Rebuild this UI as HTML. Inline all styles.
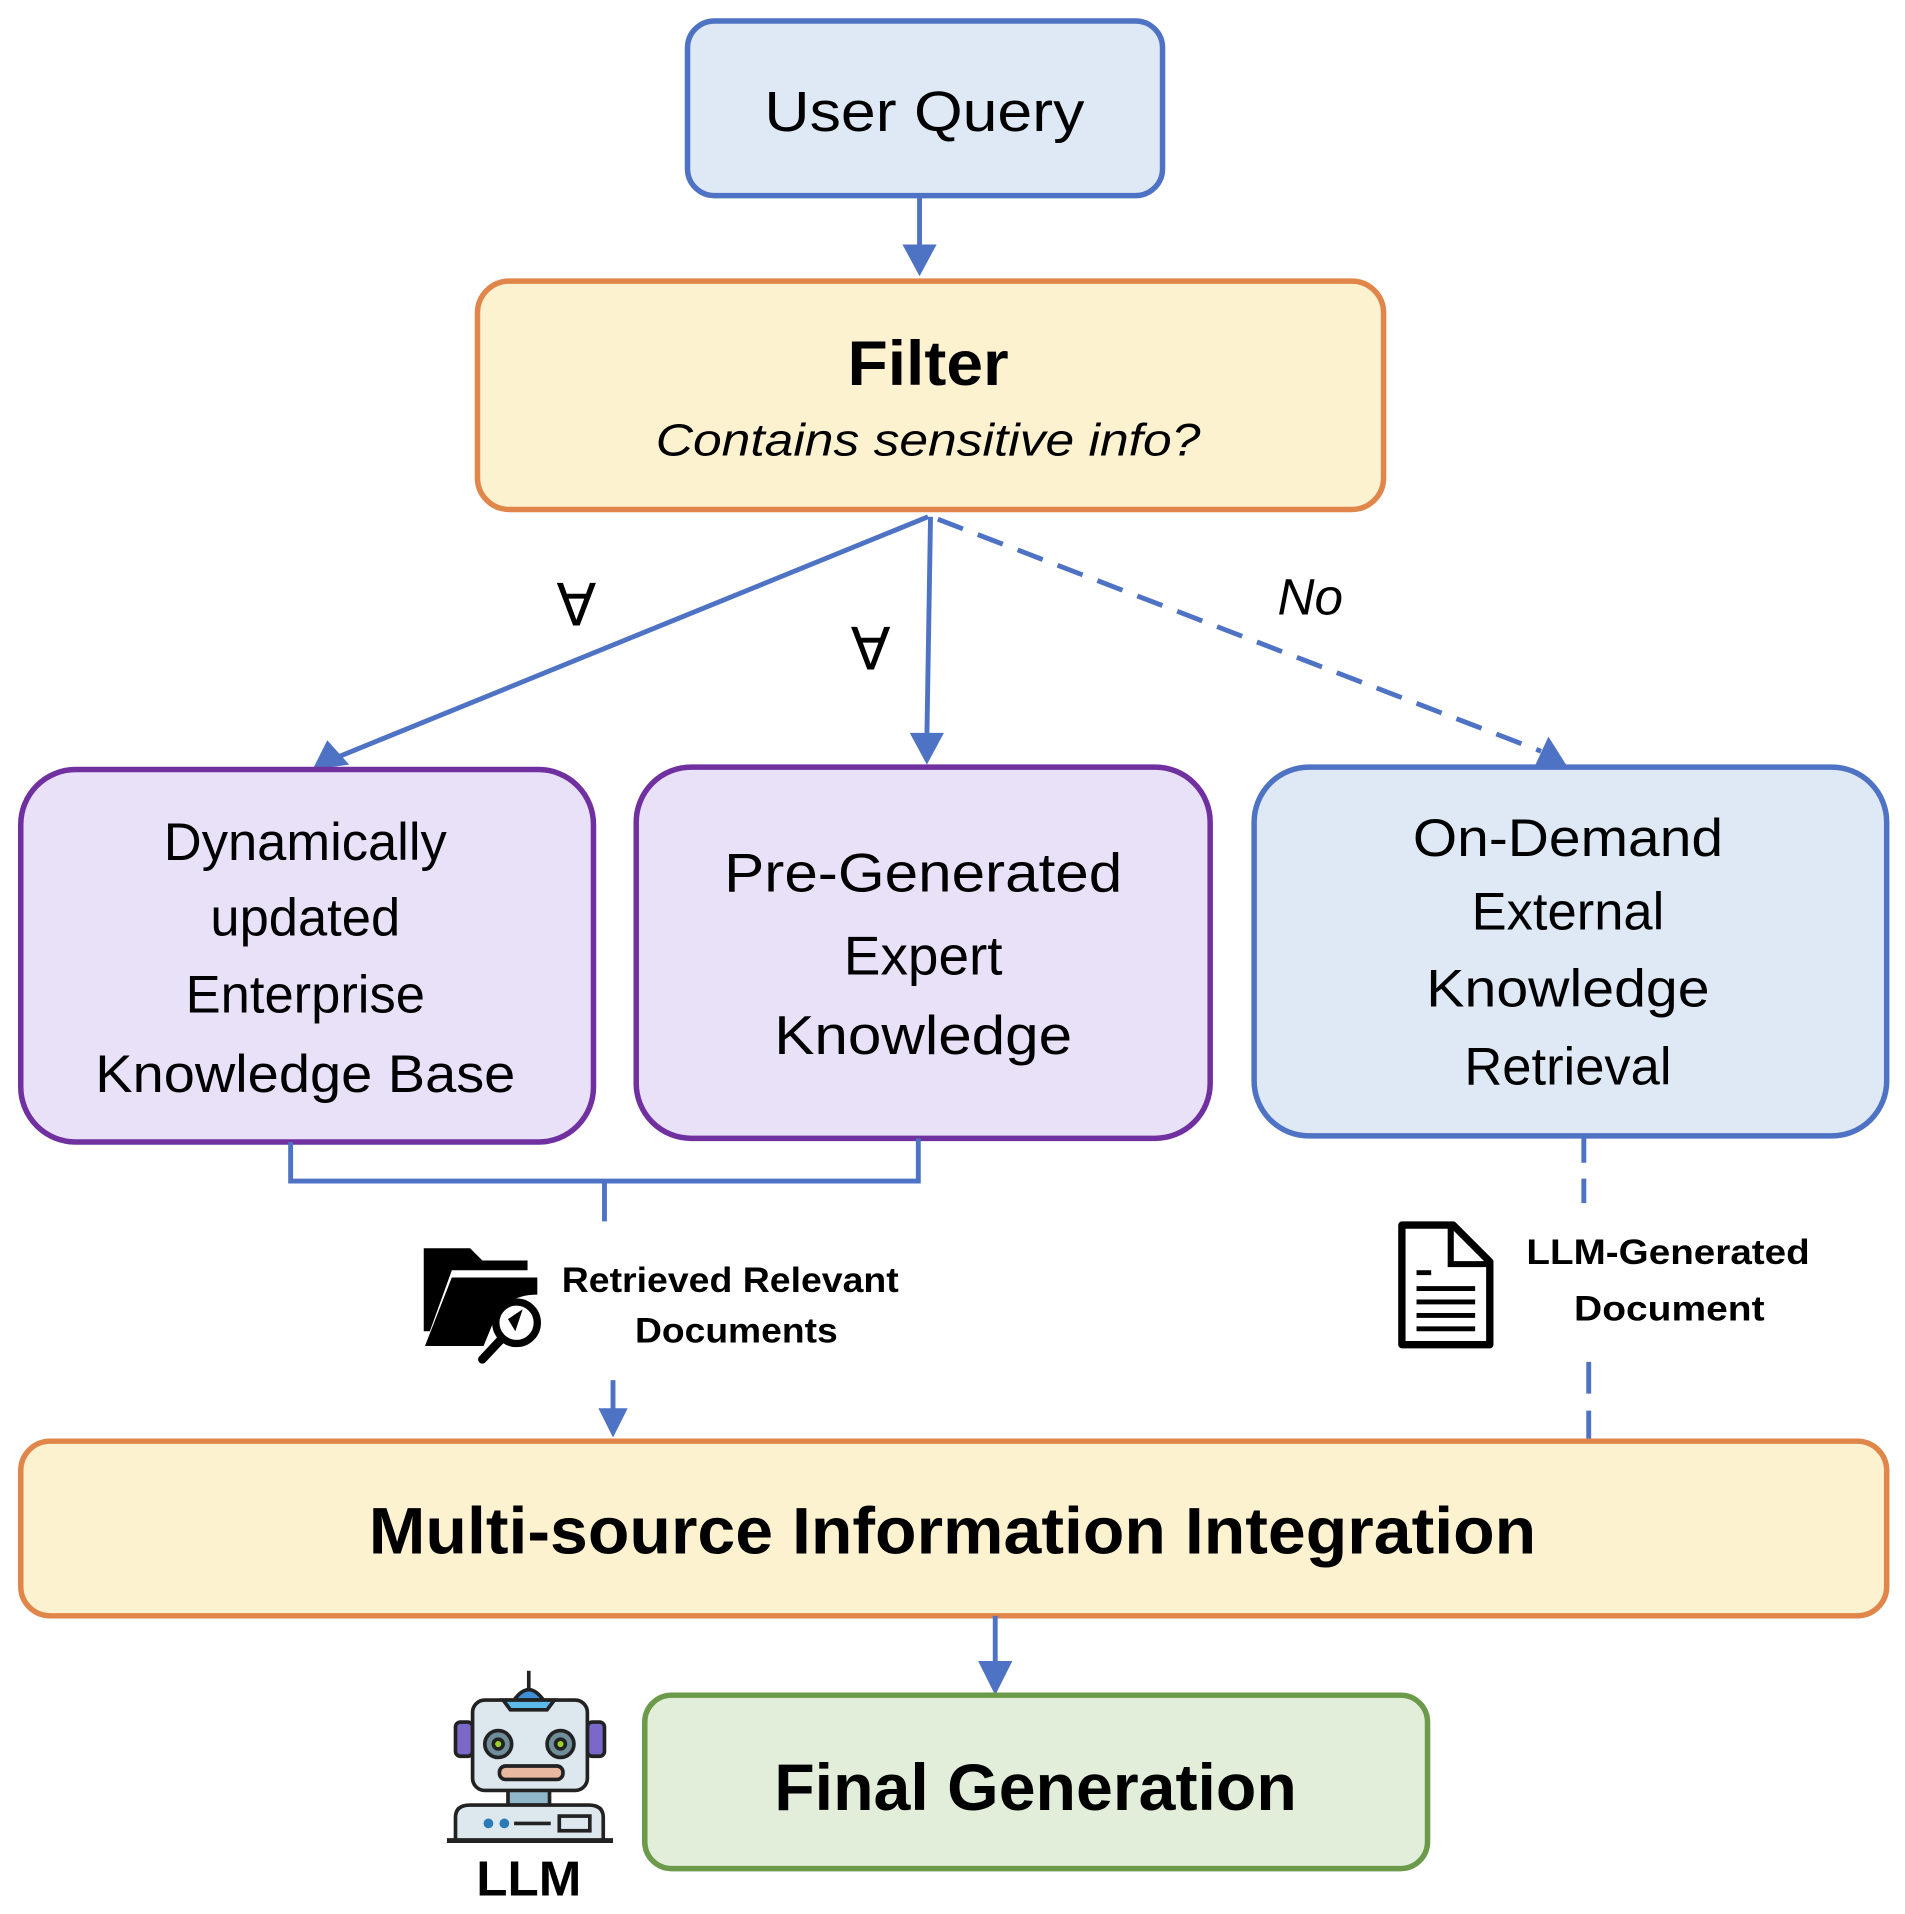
<!DOCTYPE html>
<html><head><meta charset="utf-8"><style>
html,body{margin:0;padding:0;background:#fff;}
svg{display:block;}
text{font-family:"Liberation Sans",sans-serif;fill:#000;}
</style></head><body>
<svg width="1905" height="1914" viewBox="0 0 1560 1567" xmlns="http://www.w3.org/2000/svg">
<defs>
<marker id="ah" markerWidth="8" markerHeight="8" refX="6" refY="4" orient="auto" markerUnits="userSpaceOnUse" viewBox="0 0 8 8">
</marker>
</defs>
<!-- User Query -->
<rect x="563" y="17" width="389" height="143" rx="22" fill="#dfe9f5" stroke="#4f73c4" stroke-width="4.5"/>
<text x="757" y="107" font-size="46" text-anchor="middle" textLength="262" lengthAdjust="spacingAndGlyphs">User Query</text>
<line x1="753" y1="160" x2="753" y2="205" stroke="#4f73c4" stroke-width="4"/>
<polygon points="739,200 767,200 753,226" fill="#4f73c4"/>
<!-- Filter -->
<rect x="391" y="230" width="742" height="187" rx="26" fill="#fdf2d0" stroke="#e0864a" stroke-width="4.5"/>
<text x="760" y="315" font-size="52" font-weight="bold" text-anchor="middle" textLength="132" lengthAdjust="spacingAndGlyphs">Filter</text>
<text x="760" y="373" font-size="37" font-style="italic" text-anchor="middle" textLength="446" lengthAdjust="spacingAndGlyphs">Contains sensitive info?</text>
<!-- branches -->
<line x1="760" y1="423" x2="276" y2="620" stroke="#4f73c4" stroke-width="4"/>
<polygon points="256,630 268,606 286,626" fill="#4f73c4"/>
<line x1="762" y1="423" x2="759" y2="605" stroke="#4f73c4" stroke-width="4"/>
<polygon points="745,600 773,600 759,626" fill="#4f73c4"/>
<line x1="768" y1="425" x2="1262" y2="615" stroke="#4f73c4" stroke-width="4" stroke-dasharray="22,13"/>
<polygon points="1285,630 1256,629 1268,603" fill="#4f73c4"/>
<text x="472" y="512" font-size="48" text-anchor="middle">∀</text>
<text x="713" y="548" font-size="48" text-anchor="middle">∀</text>
<text x="1073" y="503" font-size="42" font-style="italic" text-anchor="middle">No</text>
<!-- middle boxes -->
<rect x="17" y="630" width="469" height="305" rx="45" fill="#e9e1f7" stroke="#7030a0" stroke-width="4.5"/>
<g font-size="43" text-anchor="middle">
<text x="250" y="704">Dynamically</text>
<text x="250" y="766">updated</text>
<text x="250" y="829">Enterprise</text>
<text x="250" y="894" textLength="344" lengthAdjust="spacingAndGlyphs">Knowledge Base</text>
</g>
<rect x="521" y="628" width="470" height="304" rx="45" fill="#e9e1f7" stroke="#7030a0" stroke-width="4.5"/>
<g font-size="45" text-anchor="middle">
<text x="756" y="730" textLength="326" lengthAdjust="spacingAndGlyphs">Pre-Generated</text>
<text x="756" y="798">Expert</text>
<text x="756" y="863" textLength="244" lengthAdjust="spacingAndGlyphs">Knowledge</text>
</g>
<rect x="1027" y="628" width="518" height="302" rx="45" fill="#dfe9f5" stroke="#4f73c4" stroke-width="4.5"/>
<g font-size="43" text-anchor="middle">
<text x="1284" y="701" textLength="254" lengthAdjust="spacingAndGlyphs">On-Demand</text>
<text x="1284" y="761">External</text>
<text x="1284" y="824" textLength="232" lengthAdjust="spacingAndGlyphs">Knowledge</text>
<text x="1284" y="888">Retrieval</text>
</g>
<!-- bracket -->
<path d="M238,935 V967 H752 V932 M495,967 V1000" fill="none" stroke="#4f73c4" stroke-width="4"/>
<!-- folder icon -->
<g>
<path d="M347,1022 H385 L395,1032 H432 V1040 H370 L352,1090 H347 Z" fill="#000"/>
<path d="M370,1046 H440 V1060 Q415,1060 405,1080 L396,1102 H348 Z" fill="#000"/>
<circle cx="423" cy="1083" r="17" fill="#fff" stroke="#000" stroke-width="6"/>
<path d="M416,1080 L428,1072 L422,1090 Z" fill="#000"/>
<line x1="410" y1="1097" x2="395" y2="1113" stroke="#000" stroke-width="7" stroke-linecap="round"/>
</g>
<g font-size="29" font-weight="bold" text-anchor="middle">
<text x="598" y="1058" textLength="276" lengthAdjust="spacingAndGlyphs">Retrieved Relevant</text>
<text x="603" y="1099" textLength="166" lengthAdjust="spacingAndGlyphs">Documents</text>
</g>
<line x1="502" y1="1130" x2="502" y2="1158" stroke="#4f73c4" stroke-width="4"/>
<polygon points="490,1153 514,1153 502,1177" fill="#4f73c4"/>
<!-- right dashed -->
<line x1="1297" y1="932" x2="1297" y2="997" stroke="#4f73c4" stroke-width="4" stroke-dasharray="20,13"/>
<line x1="1301" y1="1115" x2="1301" y2="1180" stroke="#4f73c4" stroke-width="4" stroke-dasharray="26,14"/>
<!-- doc icon -->
<path d="M1148,1003 H1190 L1220,1033 V1101 H1148 Z" fill="#fff" stroke="#000" stroke-width="6" stroke-linejoin="round"/>
<path d="M1188,1003 V1035 H1220" fill="none" stroke="#000" stroke-width="5"/>
<g stroke="#000" stroke-width="4">
<line x1="1160" y1="1042" x2="1172" y2="1042"/>
<line x1="1160" y1="1055" x2="1208" y2="1055"/>
<line x1="1160" y1="1066" x2="1208" y2="1066"/>
<line x1="1160" y1="1077" x2="1208" y2="1077"/>
<line x1="1160" y1="1088" x2="1208" y2="1088"/>
</g>
<g font-size="29" font-weight="bold" text-anchor="middle">
<text x="1366" y="1035" textLength="232" lengthAdjust="spacingAndGlyphs">LLM-Generated</text>
<text x="1367" y="1081" textLength="156" lengthAdjust="spacingAndGlyphs">Document</text>
</g>
<!-- multi source -->
<rect x="17" y="1180" width="1528" height="143" rx="24" fill="#fdf2d0" stroke="#e0864a" stroke-width="4.5"/>
<text x="780" y="1272" font-size="54" font-weight="bold" text-anchor="middle" textLength="956" lengthAdjust="spacingAndGlyphs">Multi-source Information Integration</text>
<line x1="815" y1="1323" x2="815" y2="1365" stroke="#4f73c4" stroke-width="4"/>
<polygon points="801,1360 829,1360 815,1388" fill="#4f73c4"/>
<!-- final -->
<rect x="528" y="1388" width="641" height="142" rx="22" fill="#e2eed9" stroke="#6a9a4a" stroke-width="4.5"/>
<text x="848" y="1482" font-size="54" font-weight="bold" text-anchor="middle" textLength="428" lengthAdjust="spacingAndGlyphs">Final Generation</text>
<!-- robot -->
<g stroke="#222" stroke-width="3">
<line x1="433" y1="1368" x2="433" y2="1385"/>
<path d="M421,1392 Q433,1375 445,1392 Z" fill="#3d8fd6"/>
<rect x="373" y="1410" width="14" height="28" rx="4" fill="#7b68c8"/>
<rect x="481" y="1410" width="14" height="28" rx="4" fill="#7b68c8"/>
<rect x="416" y="1464" width="34" height="14" fill="#8fb6c9"/>
<rect x="387" y="1392" width="94" height="74" rx="10" fill="#dde8ee"/>
<path d="M412,1392 H454 L448,1400 H418 Z" fill="#5bb8e8"/>
<circle cx="408" cy="1428" r="11" fill="#6f8e99"/>
<circle cx="408" cy="1428" r="4" fill="#9ccf2a"/>
<circle cx="459" cy="1428" r="11" fill="#6f8e99"/>
<circle cx="459" cy="1428" r="4" fill="#9ccf2a"/>
<rect x="409" y="1446" width="52" height="11" rx="5" fill="#e8b8a0"/>
<path d="M373,1506 V1488 Q373,1478 385,1478 H482 Q494,1478 494,1488 V1506" fill="#dde8ee"/>
<line x1="366" y1="1507" x2="502" y2="1507" stroke-width="4"/>
</g>
<circle cx="400" cy="1493" r="4" fill="#2a7ab8"/>
<circle cx="413" cy="1493" r="4" fill="#2a7ab8"/>
<line x1="421" y1="1493" x2="451" y2="1493" stroke="#222" stroke-width="3"/>
<rect x="458" y="1487" width="25" height="12" fill="none" stroke="#222" stroke-width="3"/>
<text x="433" y="1552" font-size="40" font-weight="bold" text-anchor="middle" textLength="86" lengthAdjust="spacingAndGlyphs">LLM</text>
</svg>
</body></html>
